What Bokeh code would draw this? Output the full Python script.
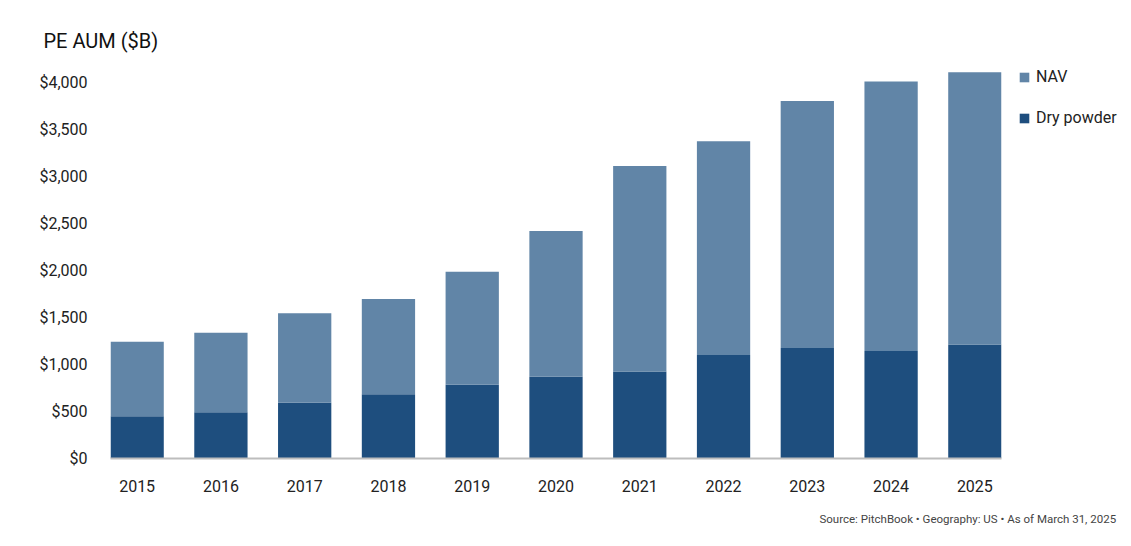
from bokeh.plotting import figure
from bokeh.models import ColumnDataSource, Range1d, Legend, LegendItem, Title, FixedTicker, CustomJSTickFormatter
from bokeh.embed import file_html
from bokeh.resources import INLINE

years = [2015, 2016, 2017, 2018, 2019, 2020, 2021, 2022, 2023, 2024, 2025]
dry_powder = [450, 493, 593, 685, 785, 870, 927, 1102, 1175, 1143, 1214]
total_aum = [1243, 1339, 1547, 1697, 1988, 2421, 3113, 3376, 3805, 4012, 4111]
nav = [t - d for t, d in zip(total_aum, dry_powder)]
y_ticks = [0, 500, 1000, 1500, 2000, 2500, 3000, 3500, 4000]

NAV_COLOR = "#6185A7"
DRY_COLOR = "#1E4E7E"
FONT = "Roboto"

src = ColumnDataSource(dict(year=years, dry=dry_powder, nav=nav))

p = figure(frame_width=891, frame_height=405, output_backend="svg", toolbar_location=None,
           x_range=Range1d(2015 - 0.318, 2025 + 0.318), y_range=Range1d(0, 4310),
           min_border_left=110, min_border_right=122, min_border_top=53, min_border_bottom=80)
p.outline_line_color = None
p.xgrid.visible = False
p.ygrid.visible = False

rs = p.vbar_stack(["dry", "nav"], x="year", width=0.636, source=src,
                  color=[DRY_COLOR, NAV_COLOR], line_color=None)

# axes
p.xaxis.ticker = FixedTicker(ticks=years)
p.xaxis.major_tick_line_color = None
p.xaxis.minor_tick_line_color = None
p.xaxis.axis_line_color = "#BDBDBD"
p.xaxis.axis_line_width = 2
p.xaxis.major_label_text_font = FONT
p.xaxis.major_label_text_font_size = "16px"
p.xaxis.major_label_text_color = "#222222"
p.xaxis.major_label_standoff = 15

p.yaxis.ticker = FixedTicker(ticks=y_ticks)
p.yaxis.formatter = CustomJSTickFormatter(code="return '$' + tick.toLocaleString('en-US');")
p.yaxis.major_tick_line_color = None
p.yaxis.minor_tick_line_color = None
p.yaxis.axis_line_color = None
p.yaxis.major_label_text_font = FONT
p.yaxis.major_label_text_font_size = "16px"
p.yaxis.major_label_text_color = "#222222"
p.yaxis.major_label_standoff = 17

legend = Legend(items=[LegendItem(label="NAV", renderers=[rs[1]]),
                       LegendItem(label="Dry powder", renderers=[rs[0]])],
                location=(17, 331), orientation="vertical",
                margin=0, padding=0, spacing=22,
                glyph_width=12, glyph_height=12, label_standoff=6,
                label_text_font=FONT, label_text_font_size="16px",
                label_text_color="#222222",
                border_line_color=None, background_fill_alpha=0)
p.add_layout(legend, "right")

title = Title(text="PE AUM ($B)", align="left", offset=-67, standoff=2,
              text_font=FONT, text_font_size="20px", text_color="#111111",
              text_font_style="normal")
p.add_layout(title, "above")

source = Title(text="Source: PitchBook  \u2022  Geography: US  \u2022  As of March 31, 2025",
               align="right", offset=-126, standoff=30, vertical_align="bottom",
               text_font=FONT, text_font_size="11.5px", text_color="#444444",
               text_font_style="normal")
p.add_layout(source, "below")

open("out.html", "w").write(file_html(p, INLINE))
